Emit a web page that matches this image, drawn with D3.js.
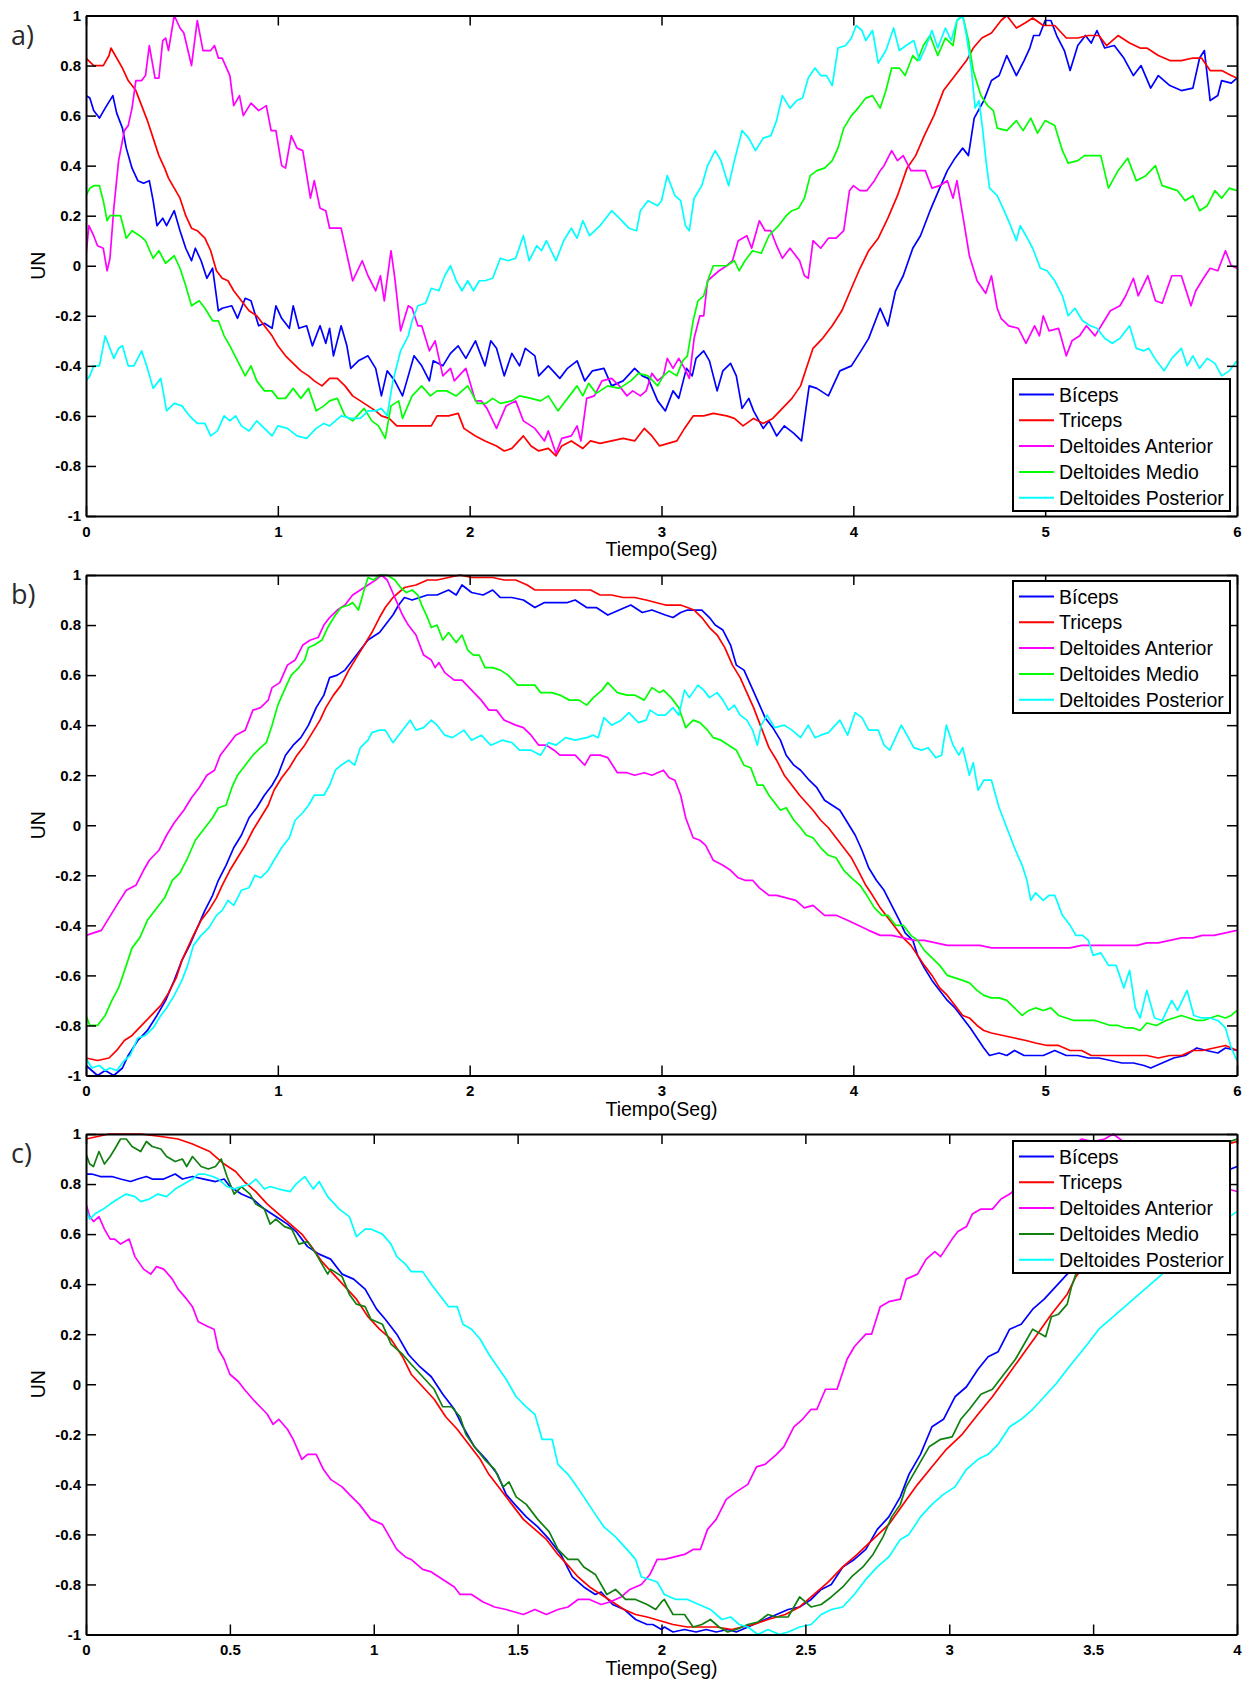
<!DOCTYPE html>
<html>
<head>
<meta charset="utf-8">
<script src="https://cdn.jsdelivr.net/npm/d3@7"></script>
<style>
  body { margin: 0; background: #fff; }
  svg { display: block; }
  .tick text { font-family: "Liberation Sans", Arial, sans-serif; font-weight: bold; font-size: 15px; fill: #000; }
  .tick line { stroke: #000; stroke-width: 1.5px; }
  .domain { stroke: #000; stroke-width: 2px; }
</style>
</head>
<body>
<svg id="fig" width="1245" height="1685"></svg>
<script>
// ---- series names, colours, ticks ----
const seriesNames = ["Bíceps", "Triceps", "Deltoides Anterior", "Deltoides Medio", "Deltoides Posterior"];
const colorsAB = ["#0000ff", "#ff0000", "#ff00ff", "#00ff00", "#00ffff"];
const colorsC  = ["#0000ff", "#ff0000", "#ff00ff", "#118011", "#00ffff"];
const yTicks = [-1, -0.8, -0.6, -0.4, -0.2, 0, 0.2, 0.4, 0.6, 0.8, 1];
const yTickLabels = ["-1", "-0.8", "-0.6", "-0.4", "-0.2", "0", "0.2", "0.4", "0.6", "0.8", "1"];
const xTicks6 = [0, 1, 2, 3, 4, 5, 6];
const xTickLabels6 = ["0", "1", "2", "3", "4", "5", "6"];
const xTicks4 = [0, 0.5, 1, 1.5, 2, 2.5, 3, 3.5, 4];
const xTickLabels4 = ["0", "0.5", "1", "1.5", "2", "2.5", "3", "3.5", "4"];
const panelLetters = ["a)", "b)", "c)"];
const xAxisTitle = "Tiempo(Seg)";
const yAxisTitle = "UN";

// ---- a) [time (s), normalised value] ----
const aBiceps = [[0,0.68],[0.02,0.67],[0.04,0.62],[0.07,0.59],[0.10,0.63],[0.14,0.68],[0.16,0.61],[0.19,0.55],[0.21,0.47],[0.24,0.39],[0.27,0.34],[0.30,0.33],[0.33,0.34],[0.35,0.26],[0.37,0.16],[0.40,0.19],[0.42,0.16],[0.46,0.22],[0.49,0.14],[0.52,0.07],[0.55,0.02],[0.57,0.07],[0.60,0.02],[0.63,-0.05],[0.66,-0.01],[0.69,-0.18],[0.71,-0.17],[0.76,-0.16],[0.79,-0.21],[0.83,-0.13],[0.86,-0.14],[0.90,-0.24],[0.93,-0.23],[0.97,-0.25],[0.99,-0.16],[1.02,-0.21],[1.06,-0.25],[1.08,-0.16],[1.11,-0.25],[1.15,-0.24],[1.18,-0.32],[1.22,-0.24],[1.25,-0.31],[1.27,-0.25],[1.29,-0.36],[1.33,-0.24],[1.36,-0.32],[1.38,-0.41],[1.42,-0.38],[1.47,-0.36],[1.51,-0.41],[1.54,-0.52],[1.57,-0.42],[1.61,-0.46],[1.65,-0.52],[1.68,-0.44],[1.71,-0.36],[1.75,-0.40],[1.79,-0.46],[1.81,-0.38],[1.86,-0.40],[1.90,-0.35],[1.94,-0.32],[1.98,-0.37],[2.03,-0.30],[2.08,-0.40],[2.11,-0.30],[2.14,-0.33],[2.18,-0.44],[2.22,-0.35],[2.26,-0.40],[2.29,-0.33],[2.34,-0.36],[2.36,-0.44],[2.41,-0.40],[2.47,-0.45],[2.51,-0.41],[2.56,-0.38],[2.60,-0.46],[2.64,-0.42],[2.70,-0.41],[2.74,-0.48],[2.80,-0.46],[2.86,-0.41],[2.90,-0.44],[2.93,-0.45],[2.98,-0.54],[3.02,-0.58],[3.06,-0.50],[3.09,-0.53],[3.13,-0.41],[3.16,-0.44],[3.18,-0.37],[3.22,-0.34],[3.25,-0.38],[3.29,-0.50],[3.32,-0.42],[3.36,-0.39],[3.39,-0.44],[3.42,-0.57],[3.455,-0.53],[3.48,-0.58],[3.53,-0.65],[3.56,-0.62],[3.60,-0.68],[3.64,-0.64],[3.69,-0.67],[3.73,-0.70],[3.755,-0.56],[3.77,-0.48],[3.81,-0.49],[3.87,-0.52],[3.93,-0.42],[3.99,-0.40],[4.04,-0.34],[4.08,-0.29],[4.14,-0.17],[4.18,-0.24],[4.22,-0.10],[4.26,-0.04],[4.31,0.07],[4.35,0.12],[4.40,0.22],[4.45,0.31],[4.49,0.38],[4.53,0.43],[4.57,0.47],[4.60,0.44],[4.63,0.59],[4.68,0.66],[4.72,0.74],[4.76,0.76],[4.80,0.84],[4.85,0.76],[4.89,0.82],[4.92,0.87],[4.94,0.92],[4.97,0.92],[5.00,0.98],[5.03,0.98],[5.06,0.92],[5.10,0.86],[5.13,0.78],[5.17,0.88],[5.21,0.92],[5.24,0.89],[5.27,0.94],[5.31,0.87],[5.36,0.88],[5.41,0.83],[5.46,0.76],[5.50,0.80],[5.55,0.71],[5.59,0.76],[5.65,0.72],[5.71,0.70],[5.77,0.71],[5.805,0.83],[5.83,0.86],[5.86,0.66],[5.90,0.68],[5.92,0.74],[5.97,0.73],[6.00,0.75]];
const aTriceps = [[0,0.83],[0.04,0.80],[0.09,0.80],[0.12,0.84],[0.13,0.87],[0.16,0.83],[0.19,0.79],[0.22,0.74],[0.26,0.70],[0.29,0.64],[0.32,0.58],[0.35,0.51],[0.38,0.44],[0.41,0.39],[0.43,0.35],[0.46,0.31],[0.49,0.27],[0.52,0.20],[0.55,0.15],[0.58,0.14],[0.62,0.11],[0.65,0.06],[0.68,-0.02],[0.71,-0.05],[0.74,-0.06],[0.77,-0.10],[0.81,-0.14],[0.85,-0.18],[0.89,-0.20],[0.93,-0.24],[0.97,-0.28],[1.00,-0.32],[1.04,-0.36],[1.08,-0.39],[1.12,-0.42],[1.16,-0.44],[1.19,-0.46],[1.23,-0.48],[1.27,-0.45],[1.31,-0.45],[1.35,-0.48],[1.39,-0.52],[1.43,-0.54],[1.47,-0.56],[1.51,-0.58],[1.54,-0.60],[1.58,-0.61],[1.62,-0.64],[1.68,-0.64],[1.74,-0.64],[1.80,-0.64],[1.83,-0.60],[1.89,-0.60],[1.94,-0.59],[1.97,-0.65],[2.03,-0.68],[2.08,-0.70],[2.14,-0.72],[2.18,-0.74],[2.22,-0.73],[2.28,-0.68],[2.32,-0.72],[2.36,-0.74],[2.41,-0.73],[2.45,-0.76],[2.48,-0.72],[2.53,-0.70],[2.59,-0.73],[2.63,-0.70],[2.68,-0.71],[2.74,-0.70],[2.80,-0.69],[2.86,-0.70],[2.91,-0.65],[2.95,-0.68],[2.99,-0.72],[3.08,-0.70],[3.12,-0.65],[3.165,-0.60],[3.22,-0.60],[3.27,-0.59],[3.34,-0.60],[3.38,-0.61],[3.425,-0.64],[3.48,-0.61],[3.53,-0.63],[3.58,-0.61],[3.63,-0.57],[3.68,-0.53],[3.725,-0.48],[3.755,-0.41],[3.79,-0.33],[3.84,-0.29],[3.89,-0.24],[3.94,-0.18],[3.99,-0.09],[4.035,-0.01],[4.08,0.06],[4.13,0.11],[4.18,0.19],[4.23,0.28],[4.28,0.39],[4.325,0.44],[4.37,0.52],[4.42,0.60],[4.47,0.70],[4.53,0.76],[4.59,0.82],[4.625,0.87],[4.67,0.91],[4.72,0.93],[4.77,0.98],[4.80,1.00],[4.85,0.95],[4.895,0.97],[4.935,0.99],[4.99,0.96],[5.05,0.96],[5.11,0.91],[5.17,0.91],[5.225,0.92],[5.28,0.92],[5.32,0.88],[5.38,0.92],[5.44,0.89],[5.495,0.87],[5.53,0.87],[5.59,0.84],[5.65,0.82],[5.71,0.82],[5.77,0.83],[5.815,0.83],[5.86,0.78],[5.92,0.78],[5.97,0.76],[6.0,0.75]];
const aDeltAnt = [[0,0.04],[0.015,0.16],[0.04,0.12],[0.06,0.08],[0.09,0.07],[0.11,-0.02],[0.125,0.03],[0.145,0.23],[0.17,0.42],[0.20,0.54],[0.22,0.56],[0.24,0.63],[0.26,0.74],[0.29,0.74],[0.31,0.76],[0.33,0.88],[0.36,0.75],[0.38,0.75],[0.40,0.90],[0.415,0.91],[0.43,0.86],[0.46,1.00],[0.49,0.95],[0.51,0.93],[0.55,0.80],[0.58,0.98],[0.61,0.86],[0.65,0.86],[0.67,0.88],[0.69,0.83],[0.71,0.83],[0.75,0.76],[0.77,0.64],[0.80,0.68],[0.82,0.60],[0.86,0.65],[0.90,0.62],[0.94,0.64],[0.965,0.54],[0.99,0.54],[1.02,0.40],[1.04,0.39],[1.07,0.52],[1.10,0.47],[1.13,0.46],[1.17,0.27],[1.19,0.34],[1.22,0.23],[1.25,0.22],[1.27,0.15],[1.33,0.15],[1.35,0.08],[1.39,-0.06],[1.44,0.02],[1.47,-0.04],[1.51,-0.10],[1.535,-0.04],[1.555,-0.14],[1.59,0.06],[1.61,-0.05],[1.64,-0.26],[1.68,-0.16],[1.70,-0.17],[1.73,-0.24],[1.75,-0.24],[1.79,-0.34],[1.82,-0.30],[1.86,-0.44],[1.90,-0.41],[1.92,-0.46],[1.98,-0.41],[2.03,-0.54],[2.06,-0.54],[2.09,-0.57],[2.14,-0.65],[2.19,-0.56],[2.24,-0.54],[2.28,-0.62],[2.34,-0.65],[2.39,-0.70],[2.41,-0.66],[2.45,-0.75],[2.48,-0.69],[2.53,-0.68],[2.56,-0.64],[2.58,-0.70],[2.61,-0.53],[2.65,-0.52],[2.69,-0.46],[2.74,-0.45],[2.78,-0.48],[2.82,-0.52],[2.85,-0.50],[2.89,-0.52],[2.92,-0.50],[2.95,-0.43],[2.98,-0.46],[3.01,-0.44],[3.03,-0.37],[3.06,-0.41],[3.09,-0.37],[3.12,-0.41],[3.145,-0.45],[3.17,-0.29],[3.20,-0.20],[3.22,-0.20],[3.24,-0.06],[3.27,-0.04],[3.30,-0.02],[3.34,0.00],[3.37,0.02],[3.40,0.10],[3.445,0.12],[3.47,0.07],[3.51,0.18],[3.54,0.14],[3.57,0.14],[3.60,0.08],[3.63,0.03],[3.67,0.07],[3.72,0.02],[3.745,-0.04],[3.765,-0.05],[3.79,0.10],[3.83,0.07],[3.87,0.11],[3.91,0.11],[3.95,0.14],[3.98,0.30],[4.00,0.32],[4.035,0.30],[4.07,0.30],[4.11,0.34],[4.14,0.38],[4.16,0.40],[4.20,0.46],[4.23,0.42],[4.26,0.44],[4.30,0.38],[4.335,0.38],[4.375,0.38],[4.41,0.31],[4.45,0.32],[4.49,0.34],[4.52,0.27],[4.54,0.34],[4.575,0.18],[4.605,0.04],[4.645,-0.06],[4.69,-0.11],[4.72,-0.04],[4.75,-0.17],[4.77,-0.21],[4.81,-0.24],[4.86,-0.25],[4.90,-0.31],[4.945,-0.24],[4.97,-0.28],[4.99,-0.20],[5.02,-0.26],[5.07,-0.25],[5.11,-0.36],[5.14,-0.30],[5.18,-0.28],[5.215,-0.24],[5.26,-0.28],[5.30,-0.23],[5.34,-0.18],[5.39,-0.16],[5.42,-0.12],[5.46,-0.05],[5.485,-0.12],[5.535,-0.04],[5.575,-0.14],[5.61,-0.15],[5.66,-0.04],[5.71,-0.04],[5.76,-0.16],[5.785,-0.10],[5.825,-0.05],[5.86,-0.01],[5.90,-0.02],[5.94,0.06],[5.97,0.00],[6.0,-0.01]];
const aDeltMed = [[0,0.28],[0.02,0.31],[0.04,0.32],[0.07,0.32],[0.09,0.26],[0.11,0.18],[0.125,0.20],[0.15,0.20],[0.18,0.20],[0.21,0.11],[0.24,0.14],[0.28,0.12],[0.31,0.10],[0.35,0.03],[0.38,0.06],[0.415,0.01],[0.46,0.04],[0.49,-0.01],[0.52,-0.08],[0.55,-0.16],[0.59,-0.14],[0.62,-0.17],[0.66,-0.22],[0.69,-0.22],[0.72,-0.28],[0.75,-0.32],[0.79,-0.38],[0.83,-0.44],[0.86,-0.40],[0.89,-0.46],[0.93,-0.50],[0.97,-0.50],[1.00,-0.53],[1.04,-0.53],[1.08,-0.49],[1.12,-0.53],[1.16,-0.49],[1.20,-0.58],[1.24,-0.56],[1.27,-0.54],[1.31,-0.53],[1.35,-0.60],[1.39,-0.62],[1.45,-0.57],[1.49,-0.62],[1.525,-0.64],[1.56,-0.69],[1.59,-0.56],[1.63,-0.54],[1.65,-0.61],[1.70,-0.52],[1.75,-0.48],[1.795,-0.52],[1.83,-0.50],[1.88,-0.50],[1.93,-0.52],[1.99,-0.48],[2.04,-0.55],[2.085,-0.55],[2.12,-0.53],[2.16,-0.55],[2.22,-0.54],[2.26,-0.52],[2.32,-0.53],[2.37,-0.54],[2.41,-0.52],[2.46,-0.58],[2.51,-0.53],[2.56,-0.48],[2.59,-0.52],[2.62,-0.47],[2.66,-0.51],[2.72,-0.48],[2.78,-0.49],[2.84,-0.46],[2.88,-0.43],[2.93,-0.44],[2.98,-0.48],[3.01,-0.44],[3.04,-0.42],[3.08,-0.44],[3.11,-0.38],[3.135,-0.36],[3.165,-0.22],[3.19,-0.14],[3.22,-0.12],[3.25,-0.04],[3.27,0.00],[3.30,0.00],[3.34,0.00],[3.38,0.02],[3.405,-0.02],[3.435,0.02],[3.475,0.06],[3.52,0.05],[3.56,0.12],[3.61,0.16],[3.65,0.20],[3.68,0.22],[3.715,0.23],[3.745,0.27],[3.775,0.36],[3.81,0.38],[3.85,0.39],[3.89,0.42],[3.92,0.47],[3.95,0.55],[3.99,0.60],[4.025,0.63],[4.065,0.67],[4.10,0.68],[4.14,0.63],[4.17,0.70],[4.20,0.79],[4.24,0.79],[4.27,0.76],[4.31,0.84],[4.335,0.82],[4.365,0.88],[4.40,0.92],[4.44,0.84],[4.48,0.91],[4.52,0.88],[4.54,0.98],[4.57,1.00],[4.60,0.90],[4.625,0.78],[4.665,0.68],[4.70,0.64],[4.73,0.62],[4.75,0.55],[4.80,0.54],[4.85,0.58],[4.885,0.54],[4.925,0.59],[4.96,0.53],[5.00,0.58],[5.05,0.56],[5.09,0.46],[5.12,0.41],[5.17,0.42],[5.205,0.44],[5.25,0.44],[5.29,0.44],[5.33,0.31],[5.38,0.38],[5.43,0.43],[5.475,0.34],[5.525,0.36],[5.575,0.40],[5.61,0.32],[5.65,0.31],[5.69,0.30],[5.73,0.26],[5.77,0.28],[5.805,0.22],[5.845,0.24],[5.885,0.30],[5.92,0.27],[5.96,0.31],[6.0,0.30]];
const aDeltPost = [[0,-0.46],[0.02,-0.44],[0.04,-0.40],[0.07,-0.40],[0.10,-0.28],[0.12,-0.32],[0.145,-0.37],[0.17,-0.33],[0.19,-0.32],[0.22,-0.40],[0.25,-0.40],[0.29,-0.34],[0.32,-0.41],[0.35,-0.49],[0.39,-0.45],[0.42,-0.58],[0.46,-0.55],[0.50,-0.56],[0.54,-0.60],[0.58,-0.63],[0.62,-0.63],[0.65,-0.68],[0.685,-0.66],[0.72,-0.60],[0.75,-0.62],[0.78,-0.60],[0.81,-0.64],[0.85,-0.66],[0.89,-0.62],[0.93,-0.65],[0.97,-0.68],[1.00,-0.64],[1.05,-0.65],[1.10,-0.68],[1.15,-0.69],[1.20,-0.65],[1.24,-0.63],[1.27,-0.64],[1.33,-0.60],[1.38,-0.61],[1.43,-0.61],[1.47,-0.58],[1.51,-0.58],[1.54,-0.57],[1.57,-0.60],[1.60,-0.46],[1.64,-0.34],[1.68,-0.28],[1.70,-0.22],[1.73,-0.16],[1.77,-0.15],[1.80,-0.09],[1.84,-0.10],[1.87,-0.04],[1.90,0.00],[1.93,-0.06],[1.96,-0.10],[1.99,-0.06],[2.02,-0.10],[2.05,-0.06],[2.08,-0.06],[2.12,-0.05],[2.16,0.03],[2.20,0.02],[2.24,0.03],[2.28,0.12],[2.31,0.02],[2.35,0.08],[2.375,0.06],[2.40,0.10],[2.45,0.02],[2.49,0.10],[2.53,0.15],[2.56,0.11],[2.59,0.18],[2.625,0.12],[2.68,0.16],[2.74,0.22],[2.78,0.19],[2.83,0.15],[2.87,0.14],[2.89,0.22],[2.93,0.26],[2.98,0.24],[3.00,0.26],[3.03,0.36],[3.07,0.28],[3.10,0.26],[3.125,0.16],[3.145,0.14],[3.17,0.27],[3.21,0.32],[3.24,0.40],[3.28,0.46],[3.31,0.42],[3.35,0.32],[3.38,0.42],[3.42,0.54],[3.455,0.51],[3.49,0.46],[3.53,0.51],[3.57,0.52],[3.60,0.58],[3.63,0.68],[3.67,0.63],[3.705,0.66],[3.735,0.67],[3.765,0.75],[3.80,0.79],[3.83,0.76],[3.86,0.76],[3.89,0.72],[3.92,0.87],[3.96,0.88],[3.99,0.91],[4.015,0.96],[4.045,0.94],[4.065,0.90],[4.10,0.94],[4.13,0.81],[4.17,0.86],[4.21,0.95],[4.24,0.86],[4.275,0.88],[4.315,0.90],[4.345,0.82],[4.375,0.87],[4.41,0.94],[4.44,0.87],[4.48,0.95],[4.51,0.90],[4.54,0.98],[4.57,1.00],[4.59,0.92],[4.615,0.79],[4.635,0.63],[4.655,0.66],[4.675,0.54],[4.69,0.43],[4.71,0.31],[4.75,0.28],[4.78,0.23],[4.82,0.16],[4.85,0.10],[4.87,0.16],[4.90,0.12],[4.935,0.07],[4.975,-0.01],[5.01,-0.02],[5.05,-0.06],[5.09,-0.12],[5.12,-0.20],[5.155,-0.17],[5.195,-0.22],[5.235,-0.24],[5.27,-0.25],[5.31,-0.29],[5.35,-0.31],[5.39,-0.29],[5.44,-0.24],[5.475,-0.33],[5.515,-0.34],[5.54,-0.33],[5.58,-0.38],[5.62,-0.42],[5.66,-0.37],[5.71,-0.33],[5.74,-0.40],[5.77,-0.36],[5.805,-0.41],[5.845,-0.37],[5.885,-0.39],[5.92,-0.44],[5.96,-0.42],[6.0,-0.38]];

// ---- b) ----
const bBiceps = [[0,-0.96],[0.03,-0.98],[0.06,-1.0],[0.10,-0.98],[0.145,-1.0],[0.19,-0.97],[0.22,-0.92],[0.27,-0.86],[0.32,-0.82],[0.37,-0.76],[0.415,-0.70],[0.46,-0.62],[0.50,-0.54],[0.54,-0.48],[0.58,-0.41],[0.62,-0.34],[0.66,-0.28],[0.69,-0.22],[0.73,-0.16],[0.77,-0.09],[0.81,-0.04],[0.85,0.03],[0.89,0.07],[0.93,0.12],[0.97,0.16],[1.00,0.20],[1.04,0.28],[1.08,0.32],[1.12,0.35],[1.16,0.40],[1.20,0.47],[1.24,0.52],[1.27,0.59],[1.31,0.60],[1.35,0.62],[1.39,0.66],[1.43,0.70],[1.47,0.74],[1.53,0.77],[1.56,0.80],[1.60,0.84],[1.63,0.88],[1.66,0.91],[1.70,0.90],[1.74,0.91],[1.78,0.92],[1.83,0.92],[1.89,0.94],[1.93,0.92],[1.96,0.96],[2.01,0.93],[2.07,0.92],[2.12,0.94],[2.16,0.91],[2.22,0.91],[2.28,0.90],[2.34,0.87],[2.39,0.89],[2.45,0.89],[2.51,0.89],[2.55,0.90],[2.61,0.87],[2.66,0.87],[2.72,0.84],[2.78,0.86],[2.84,0.88],[2.90,0.85],[2.95,0.86],[3.02,0.84],[3.06,0.83],[3.10,0.85],[3.135,0.86],[3.17,0.86],[3.21,0.86],[3.25,0.83],[3.28,0.80],[3.32,0.78],[3.36,0.72],[3.39,0.64],[3.43,0.62],[3.465,0.56],[3.50,0.50],[3.54,0.43],[3.58,0.39],[3.62,0.34],[3.65,0.28],[3.69,0.24],[3.725,0.22],[3.77,0.18],[3.81,0.15],[3.85,0.10],[3.89,0.08],[3.93,0.06],[3.97,0.01],[4.01,-0.04],[4.045,-0.10],[4.08,-0.17],[4.12,-0.22],[4.16,-0.26],[4.20,-0.32],[4.24,-0.38],[4.27,-0.43],[4.31,-0.46],[4.335,-0.52],[4.37,-0.57],[4.41,-0.62],[4.45,-0.66],[4.49,-0.70],[4.53,-0.73],[4.57,-0.77],[4.61,-0.81],[4.645,-0.85],[4.68,-0.89],[4.71,-0.92],[4.76,-0.91],[4.80,-0.92],[4.84,-0.90],[4.89,-0.92],[4.935,-0.92],[4.99,-0.92],[5.05,-0.90],[5.11,-0.92],[5.17,-0.92],[5.225,-0.93],[5.28,-0.93],[5.34,-0.94],[5.40,-0.95],[5.46,-0.95],[5.515,-0.96],[5.55,-0.97],[5.61,-0.95],[5.67,-0.93],[5.73,-0.92],[5.79,-0.89],[5.84,-0.90],[5.90,-0.91],[5.94,-0.89],[6.0,-0.90]];
const bTriceps = [[0,-0.93],[0.06,-0.94],[0.12,-0.93],[0.16,-0.90],[0.20,-0.86],[0.24,-0.84],[0.29,-0.80],[0.34,-0.76],[0.39,-0.72],[0.43,-0.67],[0.47,-0.61],[0.50,-0.54],[0.53,-0.49],[0.56,-0.44],[0.60,-0.38],[0.64,-0.34],[0.68,-0.29],[0.71,-0.24],[0.75,-0.18],[0.79,-0.13],[0.83,-0.08],[0.87,-0.02],[0.91,0.03],[0.95,0.08],[0.98,0.14],[1.02,0.19],[1.06,0.23],[1.10,0.28],[1.14,0.32],[1.18,0.37],[1.22,0.42],[1.25,0.47],[1.29,0.52],[1.33,0.56],[1.37,0.62],[1.41,0.67],[1.45,0.72],[1.49,0.77],[1.53,0.83],[1.56,0.87],[1.60,0.91],[1.66,0.95],[1.72,0.96],[1.78,0.98],[1.83,0.98],[1.89,0.99],[1.95,1.00],[2.01,0.99],[2.07,0.99],[2.12,0.99],[2.18,0.98],[2.24,0.98],[2.30,0.96],[2.34,0.94],[2.39,0.94],[2.45,0.94],[2.51,0.94],[2.57,0.94],[2.63,0.94],[2.68,0.92],[2.74,0.92],[2.80,0.91],[2.86,0.91],[2.92,0.90],[2.97,0.89],[3.02,0.88],[3.06,0.88],[3.10,0.88],[3.135,0.87],[3.17,0.86],[3.21,0.83],[3.25,0.79],[3.29,0.76],[3.33,0.71],[3.37,0.64],[3.41,0.59],[3.445,0.53],[3.48,0.47],[3.52,0.39],[3.56,0.31],[3.60,0.26],[3.64,0.20],[3.68,0.16],[3.72,0.12],[3.755,0.09],[3.79,0.06],[3.83,0.02],[3.87,-0.01],[3.91,-0.05],[3.95,-0.09],[3.99,-0.13],[4.025,-0.18],[4.065,-0.24],[4.10,-0.28],[4.14,-0.33],[4.18,-0.37],[4.22,-0.41],[4.26,-0.45],[4.30,-0.48],[4.335,-0.52],[4.37,-0.56],[4.41,-0.60],[4.45,-0.65],[4.49,-0.68],[4.53,-0.72],[4.57,-0.76],[4.605,-0.77],[4.645,-0.80],[4.68,-0.82],[4.72,-0.83],[4.78,-0.84],[4.84,-0.85],[4.90,-0.86],[4.95,-0.87],[5.01,-0.88],[5.07,-0.88],[5.13,-0.90],[5.19,-0.90],[5.24,-0.92],[5.30,-0.92],[5.36,-0.92],[5.42,-0.92],[5.48,-0.92],[5.53,-0.92],[5.59,-0.93],[5.65,-0.92],[5.71,-0.92],[5.77,-0.90],[5.82,-0.90],[5.88,-0.89],[5.94,-0.88],[6.0,-0.90]];
const bDeltAnt = [[0,-0.44],[0.04,-0.43],[0.08,-0.42],[0.12,-0.37],[0.16,-0.32],[0.21,-0.26],[0.26,-0.24],[0.30,-0.18],[0.33,-0.14],[0.38,-0.10],[0.42,-0.04],[0.46,0.01],[0.51,0.06],[0.55,0.11],[0.59,0.15],[0.63,0.20],[0.67,0.22],[0.70,0.28],[0.74,0.32],[0.78,0.36],[0.83,0.38],[0.87,0.46],[0.91,0.47],[0.95,0.50],[0.97,0.55],[1.01,0.57],[1.05,0.64],[1.09,0.66],[1.13,0.72],[1.17,0.74],[1.21,0.75],[1.24,0.80],[1.27,0.83],[1.31,0.86],[1.35,0.88],[1.39,0.92],[1.43,0.94],[1.47,0.96],[1.51,0.98],[1.54,1.00],[1.57,0.98],[1.61,0.91],[1.65,0.84],[1.68,0.80],[1.72,0.76],[1.76,0.68],[1.80,0.66],[1.82,0.63],[1.84,0.65],[1.87,0.61],[1.92,0.58],[1.96,0.58],[2.01,0.54],[2.06,0.50],[2.10,0.46],[2.14,0.46],[2.18,0.42],[2.24,0.40],[2.28,0.39],[2.32,0.36],[2.36,0.32],[2.40,0.32],[2.44,0.30],[2.47,0.28],[2.51,0.28],[2.55,0.28],[2.60,0.24],[2.63,0.28],[2.68,0.28],[2.72,0.27],[2.77,0.21],[2.82,0.21],[2.86,0.20],[2.91,0.21],[2.95,0.20],[3.01,0.22],[3.04,0.19],[3.07,0.18],[3.10,0.12],[3.126,0.03],[3.165,-0.05],[3.20,-0.06],[3.23,-0.08],[3.27,-0.14],[3.32,-0.16],[3.36,-0.18],[3.40,-0.21],[3.435,-0.22],[3.475,-0.22],[3.51,-0.25],[3.56,-0.28],[3.60,-0.28],[3.65,-0.29],[3.70,-0.30],[3.745,-0.33],[3.79,-0.32],[3.85,-0.36],[3.91,-0.36],[3.97,-0.38],[4.025,-0.40],[4.08,-0.42],[4.14,-0.44],[4.20,-0.44],[4.26,-0.45],[4.32,-0.46],[4.37,-0.46],[4.43,-0.47],[4.49,-0.48],[4.55,-0.48],[4.61,-0.48],[4.66,-0.48],[4.72,-0.49],[4.78,-0.49],[4.84,-0.49],[4.90,-0.49],[4.95,-0.49],[5.01,-0.49],[5.07,-0.49],[5.13,-0.49],[5.19,-0.48],[5.24,-0.48],[5.30,-0.48],[5.36,-0.48],[5.42,-0.48],[5.48,-0.48],[5.53,-0.47],[5.59,-0.47],[5.65,-0.46],[5.71,-0.45],[5.77,-0.45],[5.82,-0.44],[5.88,-0.44],[5.94,-0.43],[6.0,-0.42]];
const bDeltMed = [[0,-0.76],[0.02,-0.80],[0.06,-0.80],[0.10,-0.76],[0.135,-0.70],[0.17,-0.65],[0.21,-0.56],[0.24,-0.49],[0.28,-0.45],[0.32,-0.38],[0.37,-0.33],[0.41,-0.29],[0.45,-0.22],[0.49,-0.19],[0.53,-0.13],[0.57,-0.06],[0.61,-0.02],[0.66,0.03],[0.69,0.07],[0.73,0.08],[0.76,0.15],[0.79,0.20],[0.83,0.24],[0.87,0.28],[0.91,0.31],[0.94,0.33],[0.97,0.40],[1.00,0.48],[1.04,0.55],[1.07,0.60],[1.11,0.63],[1.14,0.66],[1.16,0.71],[1.19,0.72],[1.23,0.74],[1.26,0.79],[1.30,0.84],[1.33,0.87],[1.37,0.88],[1.39,0.89],[1.42,0.86],[1.45,0.94],[1.47,0.99],[1.50,0.98],[1.53,1.00],[1.57,1.00],[1.61,0.98],[1.64,0.95],[1.67,0.93],[1.70,0.94],[1.73,0.92],[1.75,0.88],[1.78,0.83],[1.80,0.79],[1.83,0.80],[1.86,0.74],[1.89,0.77],[1.93,0.73],[1.96,0.76],[1.99,0.70],[2.02,0.68],[2.05,0.68],[2.08,0.63],[2.12,0.63],[2.16,0.62],[2.20,0.60],[2.25,0.56],[2.29,0.56],[2.34,0.56],[2.37,0.53],[2.43,0.53],[2.47,0.52],[2.52,0.50],[2.57,0.50],[2.61,0.48],[2.645,0.51],[2.69,0.54],[2.72,0.57],[2.77,0.53],[2.82,0.52],[2.86,0.52],[2.91,0.50],[2.95,0.55],[2.99,0.53],[3.01,0.54],[3.05,0.51],[3.09,0.47],[3.126,0.39],[3.165,0.42],[3.20,0.41],[3.24,0.38],[3.27,0.35],[3.31,0.34],[3.35,0.32],[3.39,0.30],[3.43,0.24],[3.465,0.23],[3.50,0.16],[3.53,0.16],[3.56,0.12],[3.60,0.08],[3.62,0.06],[3.65,0.07],[3.69,0.02],[3.725,-0.01],[3.755,-0.04],[3.79,-0.05],[3.83,-0.09],[3.87,-0.12],[3.91,-0.13],[3.95,-0.18],[3.99,-0.21],[4.035,-0.24],[4.07,-0.28],[4.11,-0.33],[4.15,-0.36],[4.18,-0.36],[4.22,-0.40],[4.26,-0.40],[4.30,-0.44],[4.335,-0.46],[4.37,-0.50],[4.41,-0.53],[4.45,-0.56],[4.49,-0.60],[4.53,-0.61],[4.57,-0.62],[4.605,-0.63],[4.645,-0.66],[4.68,-0.68],[4.72,-0.69],[4.76,-0.69],[4.80,-0.70],[4.84,-0.73],[4.88,-0.76],[4.915,-0.74],[4.95,-0.73],[4.99,-0.74],[5.03,-0.73],[5.07,-0.76],[5.11,-0.77],[5.15,-0.78],[5.19,-0.78],[5.225,-0.78],[5.26,-0.78],[5.30,-0.79],[5.34,-0.80],[5.38,-0.80],[5.42,-0.81],[5.46,-0.81],[5.495,-0.82],[5.53,-0.79],[5.58,-0.80],[5.63,-0.78],[5.67,-0.77],[5.71,-0.76],[5.75,-0.77],[5.79,-0.78],[5.825,-0.78],[5.86,-0.77],[5.90,-0.76],[5.94,-0.77],[5.97,-0.76],[6.0,-0.74]];
const bDeltPost = [[0,-0.93],[0.03,-0.97],[0.07,-0.96],[0.10,-0.98],[0.125,-0.97],[0.16,-0.98],[0.20,-0.94],[0.23,-0.92],[0.27,-0.85],[0.31,-0.84],[0.35,-0.81],[0.39,-0.76],[0.42,-0.73],[0.46,-0.68],[0.50,-0.62],[0.53,-0.56],[0.56,-0.48],[0.60,-0.44],[0.64,-0.41],[0.68,-0.36],[0.71,-0.34],[0.74,-0.30],[0.77,-0.32],[0.81,-0.26],[0.85,-0.25],[0.88,-0.20],[0.91,-0.21],[0.95,-0.18],[0.98,-0.14],[1.02,-0.09],[1.06,-0.05],[1.09,0.02],[1.13,0.05],[1.16,0.08],[1.19,0.12],[1.24,0.12],[1.27,0.16],[1.30,0.22],[1.33,0.24],[1.37,0.26],[1.40,0.24],[1.43,0.31],[1.47,0.34],[1.49,0.37],[1.53,0.38],[1.56,0.38],[1.60,0.33],[1.64,0.37],[1.69,0.42],[1.72,0.38],[1.76,0.39],[1.80,0.42],[1.83,0.40],[1.87,0.36],[1.91,0.35],[1.97,0.38],[2.01,0.34],[2.06,0.36],[2.11,0.32],[2.17,0.34],[2.22,0.33],[2.26,0.30],[2.32,0.30],[2.37,0.28],[2.41,0.33],[2.45,0.32],[2.50,0.35],[2.55,0.34],[2.61,0.35],[2.645,0.36],[2.67,0.35],[2.70,0.43],[2.74,0.40],[2.79,0.42],[2.83,0.45],[2.88,0.41],[2.92,0.42],[2.94,0.46],[2.98,0.44],[3.02,0.44],[3.06,0.47],[3.09,0.44],[3.12,0.54],[3.145,0.51],[3.19,0.56],[3.22,0.54],[3.25,0.51],[3.29,0.53],[3.32,0.50],[3.35,0.46],[3.38,0.48],[3.41,0.44],[3.445,0.42],[3.475,0.38],[3.50,0.32],[3.52,0.40],[3.55,0.44],[3.59,0.39],[3.64,0.40],[3.68,0.38],[3.725,0.35],[3.765,0.40],[3.80,0.35],[3.83,0.36],[3.87,0.37],[3.93,0.42],[3.97,0.36],[4.01,0.45],[4.045,0.43],[4.08,0.38],[4.13,0.38],[4.16,0.32],[4.19,0.30],[4.25,0.40],[4.28,0.36],[4.315,0.31],[4.355,0.30],[4.39,0.31],[4.43,0.27],[4.46,0.28],[4.485,0.40],[4.52,0.32],[4.55,0.28],[4.57,0.31],[4.605,0.20],[4.625,0.25],[4.65,0.14],[4.68,0.18],[4.72,0.18],[4.76,0.07],[4.80,-0.01],[4.84,-0.09],[4.88,-0.16],[4.905,-0.22],[4.925,-0.30],[4.95,-0.27],[4.99,-0.30],[5.02,-0.28],[5.05,-0.28],[5.09,-0.36],[5.13,-0.40],[5.16,-0.44],[5.195,-0.44],[5.225,-0.46],[5.25,-0.52],[5.29,-0.51],[5.33,-0.56],[5.37,-0.56],[5.41,-0.65],[5.44,-0.58],[5.47,-0.73],[5.495,-0.77],[5.53,-0.66],[5.57,-0.77],[5.61,-0.78],[5.66,-0.70],[5.69,-0.74],[5.74,-0.66],[5.775,-0.76],[5.815,-0.77],[5.86,-0.77],[5.90,-0.78],[5.94,-0.81],[5.97,-0.89],[6.0,-0.94]];

// ---- c) ----
const cBiceps = [[0,0.84],[0.02,0.84],[0.05,0.83],[0.09,0.83],[0.12,0.82],[0.155,0.81],[0.18,0.82],[0.21,0.83],[0.23,0.82],[0.27,0.82],[0.31,0.84],[0.335,0.82],[0.37,0.83],[0.41,0.82],[0.45,0.81],[0.48,0.82],[0.50,0.79],[0.54,0.76],[0.58,0.74],[0.62,0.70],[0.66,0.67],[0.70,0.64],[0.73,0.61],[0.77,0.55],[0.81,0.52],[0.85,0.50],[0.89,0.44],[0.93,0.42],[0.97,0.38],[1.01,0.30],[1.04,0.26],[1.08,0.20],[1.12,0.12],[1.16,0.07],[1.20,0.03],[1.24,-0.04],[1.28,-0.10],[1.31,-0.17],[1.35,-0.25],[1.39,-0.30],[1.43,-0.36],[1.46,-0.44],[1.49,-0.48],[1.53,-0.53],[1.57,-0.57],[1.61,-0.62],[1.65,-0.68],[1.69,-0.77],[1.73,-0.81],[1.77,-0.84],[1.79,-0.83],[1.83,-0.88],[1.87,-0.90],[1.91,-0.94],[1.95,-0.96],[1.97,-0.96],[2.00,-0.98],[2.01,-0.97],[2.04,-0.99],[2.08,-0.98],[2.12,-0.99],[2.155,-0.98],[2.19,-0.99],[2.23,-0.98],[2.26,-0.99],[2.30,-0.97],[2.32,-0.96],[2.36,-0.94],[2.40,-0.92],[2.44,-0.90],[2.48,-0.89],[2.52,-0.86],[2.555,-0.82],[2.59,-0.80],[2.63,-0.73],[2.67,-0.70],[2.71,-0.66],[2.75,-0.58],[2.79,-0.53],[2.83,-0.45],[2.86,-0.36],[2.90,-0.28],[2.94,-0.17],[2.98,-0.14],[3.02,-0.05],[3.06,-0.01],[3.10,0.06],[3.135,0.11],[3.17,0.13],[3.21,0.22],[3.25,0.24],[3.29,0.30],[3.33,0.34],[3.37,0.39],[3.41,0.44],[3.6,0.62],[3.8,0.78],[4.0,0.87]];
const cTriceps = [[0,0.98],[0.04,0.99],[0.08,1.00],[0.13,1.00],[0.19,1.00],[0.26,0.99],[0.32,0.98],[0.37,0.96],[0.43,0.93],[0.48,0.88],[0.52,0.85],[0.55,0.81],[0.59,0.77],[0.63,0.72],[0.67,0.68],[0.71,0.64],[0.75,0.60],[0.79,0.54],[0.82,0.49],[0.86,0.44],[0.90,0.39],[0.94,0.34],[0.98,0.27],[1.02,0.22],[1.06,0.18],[1.10,0.11],[1.13,0.04],[1.17,-0.01],[1.21,-0.06],[1.25,-0.13],[1.29,-0.18],[1.33,-0.24],[1.37,-0.30],[1.40,-0.36],[1.44,-0.42],[1.48,-0.48],[1.52,-0.54],[1.56,-0.58],[1.60,-0.62],[1.64,-0.68],[1.68,-0.73],[1.71,-0.77],[1.75,-0.81],[1.79,-0.84],[1.83,-0.87],[1.87,-0.90],[1.91,-0.92],[1.95,-0.93],[1.98,-0.94],[2.04,-0.96],[2.09,-0.97],[2.14,-0.97],[2.19,-0.97],[2.245,-0.98],[2.28,-0.97],[2.32,-0.96],[2.37,-0.94],[2.43,-0.92],[2.48,-0.89],[2.53,-0.84],[2.58,-0.79],[2.63,-0.73],[2.68,-0.68],[2.735,-0.62],[2.79,-0.56],[2.84,-0.48],[2.89,-0.40],[2.94,-0.33],[2.99,-0.26],[3.045,-0.20],[3.10,-0.12],[3.15,-0.05],[3.20,0.03],[3.25,0.11],[3.30,0.19],[3.355,0.28],[3.41,0.36],[3.44,0.43],[3.6,0.66],[3.8,0.87],[3.9,0.94],[4.0,0.97]];
const cDeltAnt = [[0,0.72],[0.013,0.67],[0.026,0.65],[0.045,0.67],[0.064,0.62],[0.084,0.58],[0.10,0.58],[0.12,0.56],[0.15,0.58],[0.17,0.51],[0.20,0.46],[0.225,0.44],[0.245,0.47],[0.27,0.46],[0.30,0.42],[0.32,0.38],[0.35,0.34],[0.37,0.31],[0.39,0.25],[0.425,0.23],[0.445,0.22],[0.46,0.14],[0.48,0.10],[0.50,0.04],[0.53,0.01],[0.55,-0.02],[0.58,-0.06],[0.605,-0.09],[0.63,-0.12],[0.65,-0.16],[0.67,-0.14],[0.70,-0.18],[0.72,-0.22],[0.75,-0.30],[0.77,-0.28],[0.80,-0.28],[0.825,-0.34],[0.85,-0.38],[0.89,-0.41],[0.915,-0.44],[0.95,-0.48],[0.99,-0.54],[1.03,-0.56],[1.06,-0.62],[1.08,-0.66],[1.11,-0.69],[1.13,-0.70],[1.17,-0.74],[1.20,-0.75],[1.24,-0.78],[1.28,-0.81],[1.30,-0.84],[1.34,-0.84],[1.38,-0.87],[1.42,-0.89],[1.46,-0.90],[1.49,-0.91],[1.52,-0.92],[1.56,-0.90],[1.60,-0.92],[1.64,-0.90],[1.675,-0.89],[1.71,-0.86],[1.75,-0.86],[1.79,-0.88],[1.82,-0.87],[1.86,-0.85],[1.89,-0.82],[1.93,-0.80],[1.96,-0.76],[1.985,-0.70],[2.01,-0.70],[2.045,-0.69],[2.08,-0.68],[2.11,-0.66],[2.135,-0.66],[2.16,-0.58],[2.19,-0.54],[2.225,-0.46],[2.26,-0.43],[2.30,-0.40],[2.33,-0.33],[2.36,-0.32],[2.40,-0.28],[2.425,-0.25],[2.46,-0.17],[2.49,-0.14],[2.52,-0.10],[2.54,-0.10],[2.57,-0.02],[2.61,-0.02],[2.645,0.10],[2.67,0.15],[2.71,0.20],[2.73,0.20],[2.76,0.31],[2.79,0.33],[2.83,0.34],[2.85,0.42],[2.89,0.44],[2.92,0.50],[2.95,0.53],[2.97,0.51],[3.01,0.58],[3.03,0.61],[3.06,0.63],[3.08,0.68],[3.11,0.70],[3.15,0.70],[3.18,0.74],[3.21,0.76],[3.23,0.78],[3.33,0.86],[3.40,0.93],[3.46,0.98],[3.50,0.97],[3.54,0.98],[3.57,1.00],[3.65,0.93],[3.8,0.84],[4.0,0.77]];
const cDeltMed = [[0,0.92],[0.013,0.88],[0.026,0.87],[0.045,0.93],[0.064,0.88],[0.084,0.91],[0.10,0.94],[0.12,0.98],[0.14,0.98],[0.16,0.95],[0.19,0.93],[0.21,0.97],[0.23,0.95],[0.26,0.94],[0.28,0.91],[0.31,0.89],[0.335,0.90],[0.35,0.87],[0.37,0.91],[0.40,0.87],[0.425,0.86],[0.45,0.87],[0.47,0.90],[0.49,0.83],[0.515,0.76],[0.54,0.79],[0.57,0.76],[0.59,0.72],[0.62,0.70],[0.64,0.64],[0.66,0.66],[0.69,0.63],[0.715,0.62],[0.74,0.56],[0.77,0.57],[0.80,0.52],[0.82,0.48],[0.84,0.44],[0.85,0.46],[0.89,0.43],[0.915,0.36],[0.94,0.32],[0.97,0.31],[0.99,0.26],[1.03,0.24],[1.06,0.16],[1.10,0.12],[1.13,0.08],[1.17,0.03],[1.21,-0.02],[1.24,-0.09],[1.27,-0.09],[1.30,-0.13],[1.32,-0.20],[1.35,-0.25],[1.385,-0.30],[1.42,-0.34],[1.45,-0.41],[1.47,-0.39],[1.495,-0.45],[1.53,-0.48],[1.57,-0.54],[1.61,-0.59],[1.64,-0.66],[1.675,-0.70],[1.71,-0.70],[1.73,-0.73],[1.77,-0.76],[1.81,-0.84],[1.84,-0.82],[1.875,-0.86],[1.91,-0.86],[1.95,-0.88],[1.98,-0.90],[2.00,-0.87],[2.01,-0.86],[2.04,-0.92],[2.08,-0.92],[2.11,-0.97],[2.14,-0.96],[2.17,-0.94],[2.20,-0.97],[2.23,-0.99],[2.26,-0.98],[2.30,-0.96],[2.335,-0.95],[2.37,-0.92],[2.40,-0.93],[2.44,-0.93],[2.48,-0.85],[2.52,-0.89],[2.555,-0.88],[2.59,-0.85],[2.63,-0.81],[2.66,-0.77],[2.70,-0.73],[2.735,-0.68],[2.77,-0.61],[2.80,-0.53],[2.83,-0.48],[2.85,-0.41],[2.89,-0.33],[2.93,-0.25],[2.97,-0.22],[3.01,-0.21],[3.04,-0.14],[3.07,-0.10],[3.11,-0.04],[3.15,-0.02],[3.19,0.04],[3.23,0.10],[3.26,0.16],[3.29,0.22],[3.32,0.20],[3.335,0.19],[3.355,0.27],[3.38,0.28],[3.41,0.32],[3.425,0.39],[3.44,0.44],[3.6,0.70],[3.8,0.90],[4.0,0.98]];
const cDeltPost = [[0,0.70],[0.013,0.66],[0.03,0.68],[0.06,0.70],[0.084,0.72],[0.11,0.74],[0.14,0.76],[0.17,0.75],[0.19,0.73],[0.22,0.74],[0.25,0.76],[0.28,0.75],[0.31,0.78],[0.34,0.80],[0.37,0.82],[0.39,0.84],[0.41,0.84],[0.44,0.83],[0.46,0.82],[0.49,0.79],[0.515,0.78],[0.54,0.79],[0.57,0.80],[0.59,0.82],[0.62,0.78],[0.64,0.79],[0.67,0.78],[0.71,0.77],[0.73,0.80],[0.76,0.83],[0.79,0.78],[0.81,0.81],[0.84,0.75],[0.88,0.70],[0.915,0.67],[0.94,0.59],[0.97,0.62],[0.99,0.62],[1.03,0.60],[1.06,0.56],[1.08,0.51],[1.11,0.48],[1.13,0.45],[1.17,0.45],[1.20,0.40],[1.24,0.34],[1.26,0.31],[1.29,0.31],[1.31,0.24],[1.34,0.22],[1.37,0.18],[1.40,0.12],[1.43,0.07],[1.46,0.02],[1.495,-0.05],[1.53,-0.09],[1.56,-0.12],[1.585,-0.22],[1.62,-0.22],[1.64,-0.32],[1.675,-0.36],[1.70,-0.40],[1.73,-0.45],[1.77,-0.52],[1.80,-0.57],[1.84,-0.61],[1.88,-0.66],[1.91,-0.70],[1.93,-0.77],[1.96,-0.78],[1.985,-0.79],[2.01,-0.84],[2.05,-0.86],[2.09,-0.86],[2.13,-0.88],[2.17,-0.90],[2.21,-0.94],[2.24,-0.93],[2.27,-0.96],[2.30,-0.97],[2.335,-1.00],[2.37,-0.98],[2.41,-1.00],[2.44,-0.99],[2.48,-0.97],[2.52,-0.96],[2.555,-0.92],[2.59,-0.90],[2.63,-0.89],[2.67,-0.84],[2.71,-0.78],[2.75,-0.73],[2.79,-0.69],[2.83,-0.62],[2.86,-0.60],[2.90,-0.53],[2.94,-0.48],[2.98,-0.44],[3.02,-0.41],[3.06,-0.34],[3.10,-0.30],[3.135,-0.28],[3.17,-0.24],[3.21,-0.17],[3.25,-0.14],[3.29,-0.10],[3.33,-0.05],[3.37,0.00],[3.41,0.06],[3.445,0.11],[3.48,0.16],[3.52,0.22],[3.56,0.26],[3.60,0.30],[3.64,0.34],[3.66,0.36],[3.70,0.40],[3.74,0.44],[3.85,0.57],[4.0,0.69]];

// ---- layout ----
const PLOT_LEFT = 86, PLOT_RIGHT = 1237;
const panels = [
  { letter: panelLetters[0], top: 15.5, bottom: 516, xMax: 6, xTicks: xTicks6, xLabels: xTickLabels6,
    series: [aBiceps, aTriceps, aDeltAnt, aDeltMed, aDeltPost], colors: colorsAB, legendTop: 379 },
  { letter: panelLetters[1], top: 575, bottom: 1075.5, xMax: 6, xTicks: xTicks6, xLabels: xTickLabels6,
    series: [bBiceps, bTriceps, bDeltAnt, bDeltMed, bDeltPost], colors: colorsAB, legendTop: 581 },
  { letter: panelLetters[2], top: 1134, bottom: 1634.5, xMax: 4, xTicks: xTicks4, xLabels: xTickLabels4,
    series: [cBiceps, cTriceps, cDeltAnt, cDeltMed, cDeltPost], colors: colorsC, legendTop: 1141 }
];

const svg = d3.select("#fig");
const defs = svg.append("defs");
const textFont = '"Liberation Sans", Arial, Helvetica, sans-serif';

panels.forEach((p, pi) => {
  const x = d3.scaleLinear().domain([0, p.xMax]).range([PLOT_LEFT, PLOT_RIGHT]);
  const y = d3.scaleLinear().domain([-1, 1]).range([p.bottom, p.top]);
  const g = svg.append("g");

  const clipId = "clip" + pi;
  defs.append("clipPath").attr("id", clipId)
    .append("rect")
    .attr("x", PLOT_LEFT).attr("y", p.top - 1)
    .attr("width", PLOT_RIGHT - PLOT_LEFT).attr("height", p.bottom - p.top + 2);

  // signal traces
  const line = d3.line().x(d => x(d[0])).y(d => y(d[1]));
  const traces = g.append("g").attr("clip-path", `url(#${clipId})`);
  p.series.forEach((s, i) => {
    traces.append("path")
      .datum(s)
      .attr("d", line)
      .attr("fill", "none")
      .attr("stroke", p.colors[i])
      .attr("stroke-width", 1.7)
      .attr("stroke-linejoin", "round");
  });

  // axes: MATLAB-style box with inward ticks on all four sides
  g.append("g").attr("transform", `translate(0,${p.bottom})`)
    .call(d3.axisBottom(x).tickValues(p.xTicks).tickFormat((d, i) => p.xLabels[i])
      .tickSizeInner(-10).tickSizeOuter(0).tickPadding(10));
  g.append("g").attr("transform", `translate(0,${p.top})`)
    .call(d3.axisTop(x).tickValues(p.xTicks).tickFormat("")
      .tickSizeInner(-10).tickSizeOuter(0));
  g.append("g").attr("transform", `translate(${PLOT_LEFT},0)`)
    .call(d3.axisLeft(y).tickValues(yTicks).tickFormat((d, i) => yTickLabels[i])
      .tickSizeInner(-10).tickSizeOuter(0).tickPadding(5));
  g.append("g").attr("transform", `translate(${PLOT_RIGHT},0)`)
    .call(d3.axisRight(y).tickValues(yTicks).tickFormat("")
      .tickSizeInner(-10).tickSizeOuter(0));

  // axis titles
  g.append("text")
    .attr("x", (PLOT_LEFT + PLOT_RIGHT) / 2).attr("y", p.bottom + 40)
    .attr("text-anchor", "middle")
    .style("font-family", textFont).style("font-size", "19.5px")
    .text(xAxisTitle);
  g.append("text")
    .attr("transform", `translate(45,${(p.top + p.bottom) / 2}) rotate(-90)`)
    .attr("text-anchor", "middle")
    .style("font-family", textFont).style("font-size", "19.5px")
    .text(yAxisTitle);

  // panel letter
  g.append("text")
    .attr("x", 11).attr("y", p.top + 29)
    .style("font-family", '"Open Sans", "Noto Sans", sans-serif')
    .style("font-size", "27px").style("fill", "#2a2a2a")
    .text(p.letter);

  // legend
  const lg = g.append("g");
  const lx = 1013, lw = 217, lh = 132;
  lg.append("rect")
    .attr("x", lx).attr("y", p.legendTop).attr("width", lw).attr("height", lh)
    .attr("fill", "#fff").attr("stroke", "#000").attr("stroke-width", 2);
  seriesNames.forEach((name, i) => {
    const cy = p.legendTop + 15.5 + i * 25.8;
    lg.append("line")
      .attr("x1", lx + 6).attr("x2", lx + 41).attr("y1", cy).attr("y2", cy)
      .attr("stroke", p.colors[i]).attr("stroke-width", 2);
    lg.append("text")
      .attr("x", lx + 46).attr("y", cy + 7)
      .style("font-family", textFont).style("font-size", "19.5px")
      .text(name);
  });
});
</script>
</body>
</html>
